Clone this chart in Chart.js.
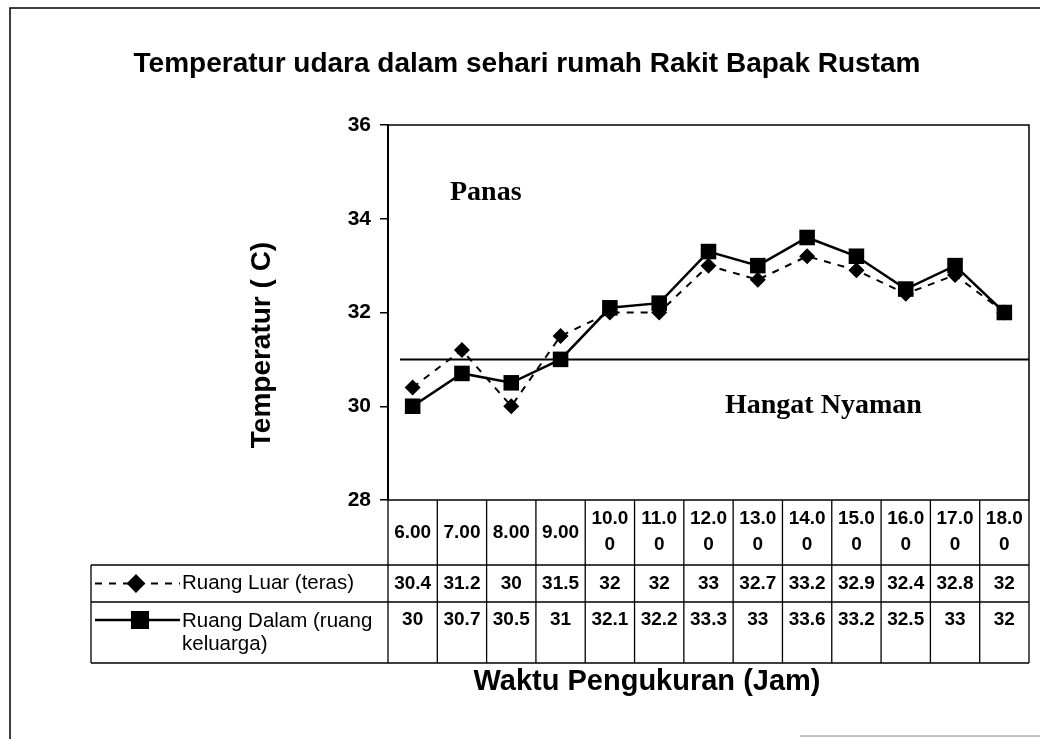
<!DOCTYPE html>
<html>
<head>
<meta charset="utf-8">
<title>Temperatur udara dalam sehari</title>
<script src="https://cdn.jsdelivr.net/npm/chart.js@4/dist/chart.umd.min.js"></script>
<style>
  html, body { margin: 0; padding: 0; background: #fff; }
  #wrap { width: 1040px; height: 739px; }
</style>
</head>
<body>
<div id="wrap"><canvas id="suhuChart" width="1040" height="739"></canvas></div>
<script>
// Jam pengukuran
const jamUkur = ['6.00', '7.00', '8.00', '9.00', '10.00', '11.00', '12.00', '13.00', '14.00', '15.00', '16.00', '17.00', '18.00'];
// Suhu ruang luar (teras), derajat C
const suhuLuar = [30.4, 31.2, 30, 31.5, 32, 32, 33, 32.7, 33.2, 32.9, 32.4, 32.8, 32];
// Suhu ruang dalam (ruang keluarga)
const suhuDalam = [30, 30.7, 30.5, 31, 32.1, 32.2, 33.3, 33, 33.6, 33.2, 32.5, 33, 32];
// Skala sumbu Y
const sumbuMin = 28;
const sumbuMax = 36;
const sumbuLangkah = 2;
// Batas zona hangat nyaman / panas
const batasNyaman = 31;
const namaSeri = ['Ruang Luar (teras)', 'Ruang Dalam (ruang keluarga)'];

const SANS = '"Liberation Sans", Arial, sans-serif';
const SERIF = '"Liberation Serif", "Times New Roman", serif';

// tinggi baris tabel di bawah grafik
const tinggiHeader = 65;
const tinggiLuar = 37;
const tinggiDalam = 61;
const kiriLegenda = 91;

// pecah label jam kalau tidak muat di kolom
function pecahLabel(ctx, teks, lebar) {
    if (ctx.measureText(teks).width <= lebar) return [teks];
    return [teks.slice(0, 4), teks.slice(4)];
}

// bungkus teks legenda per kata
function bungkusTeks(ctx, teks, lebar) {
    const kata = teks.split(' ');
    const baris = [];
    let cur = '';
    kata.forEach(k => {
        const coba = cur ? cur + ' ' + k : k;
        if (ctx.measureText(coba).width > lebar && cur) {
            baris.push(cur);
            cur = k;
        } else {
            cur = coba;
        }
    });
    if (cur) baris.push(cur);
    return baris;
}

const zonaPlugin = {
    id: 'zonaNyaman',
    beforeDatasetsDraw(chart) {
        const { ctx, chartArea: a, scales: { y } } = chart;
        const yb = y.getPixelForValue(batasNyaman);
        ctx.save();
        ctx.strokeStyle = '#000';
        ctx.lineWidth = 2;
        ctx.beginPath();
        ctx.moveTo(a.left + 12, yb);
        ctx.lineTo(a.right, yb);
        ctx.stroke();

        ctx.fillStyle = '#000';
        ctx.font = 'bold 28px ' + SERIF;
        ctx.textBaseline = 'middle';
        ctx.textAlign = 'left';
        ctx.fillText('Panas', a.left + 62, y.getPixelForValue(34.55));
        ctx.fillText('Hangat Nyaman', a.left + 337, y.getPixelForValue(30));
        ctx.restore();
    }
};

const tabelPlugin = {
    id: 'tabelData',
    afterDraw(chart) {
        const { ctx, chartArea: a, scales: { x } } = chart;
        const n = jamUkur.length;
        const colW = (a.right - a.left) / n;
        const y0 = a.bottom;
        const y1 = y0 + tinggiHeader;
        const y2 = y1 + tinggiLuar;
        const y3 = y2 + tinggiDalam;

        ctx.save();
        ctx.strokeStyle = '#000';
        ctx.fillStyle = '#000';

        // bingkai luar
        ctx.lineWidth = 1.5;
        ctx.beginPath();
        ctx.moveTo(10, 739);
        ctx.lineTo(10, 8);
        ctx.lineTo(1040, 8);
        ctx.stroke();
        ctx.strokeStyle = '#888';
        ctx.lineWidth = 1;
        ctx.beginPath();
        ctx.moveTo(800, 736);
        ctx.lineTo(1040, 736);
        ctx.stroke();
        ctx.strokeStyle = '#000';

        // bingkai area plot
        ctx.lineWidth = 1.5;
        ctx.strokeRect(a.left, a.top, a.right - a.left, a.bottom - a.top);

        // garis tabel
        ctx.lineWidth = 1.3;
        ctx.beginPath();
        for (let i = 0; i <= n; i++) {
            const xx = a.left + i * colW;
            ctx.moveTo(xx, y0);
            ctx.lineTo(xx, y3);
        }
        [y1, y2, y3].forEach(yy => {
            ctx.moveTo(kiriLegenda, yy);
            ctx.lineTo(a.right, yy);
        });
        ctx.moveTo(kiriLegenda, y1);
        ctx.lineTo(kiriLegenda, y3);
        ctx.stroke();

        // label jam
        ctx.font = 'bold 19px ' + SANS;
        ctx.textAlign = 'center';
        ctx.textBaseline = 'middle';
        jamUkur.forEach((lbl, i) => {
            const cx = x.getPixelForValue(i);
            const baris = pecahLabel(ctx, lbl, colW - 4);
            if (baris.length === 1) {
                ctx.fillText(baris[0], cx, (y0 + y1) / 2);
            } else {
                ctx.fillText(baris[0], cx, y0 + 19);
                ctx.fillText(baris[1], cx, y0 + 45);
            }
        });

        // nilai suhu
        suhuLuar.forEach((v, i) => ctx.fillText(String(v), x.getPixelForValue(i), (y1 + y2) / 2));
        suhuDalam.forEach((v, i) => ctx.fillText(String(v), x.getPixelForValue(i), y2 + 18));

        // legenda di kolom kiri
        const ds = chart.data.datasets;
        const sampel = [
            { d: ds[1], yy: (y1 + y2) / 2, mx: 136 },
            { d: ds[0], yy: y2 + 18, mx: 140 }
        ];
        sampel.forEach(s => {
            ctx.save();
            ctx.lineWidth = s.d.borderWidth;
            ctx.setLineDash(s.d.borderDash || []);
            ctx.beginPath();
            ctx.moveTo(kiriLegenda + 4, s.yy);
            ctx.lineTo(kiriLegenda + 89, s.yy);
            ctx.stroke();
            ctx.setLineDash([]);
            Chart.helpers.drawPoint(ctx, {
                pointStyle: s.d.pointStyle,
                radius: s.d.pointRadius,
                rotation: 0,
                borderWidth: 1
            }, s.mx, s.yy);
            ctx.fill();
            ctx.restore();
        });

        ctx.font = '20.5px ' + SANS;
        ctx.textAlign = 'left';
        const tx = kiriLegenda + 91;
        ctx.fillText(namaSeri[0], tx, (y1 + y2) / 2);
        bungkusTeks(ctx, namaSeri[1], a.left - tx - 4).forEach((b, i) => {
            ctx.fillText(b, tx, y2 + 19 + i * 23);
        });

        // judul
        ctx.textAlign = 'center';
        ctx.font = 'bold 28px ' + SANS;
        ctx.fillText('Temperatur udara dalam sehari rumah Rakit Bapak Rustam', 527, 64);
        ctx.font = 'bold 29px ' + SANS;
        ctx.fillText('Waktu Pengukuran (Jam)', 647, 682);

        ctx.translate(262, 345);
        ctx.rotate(-Math.PI / 2);
        ctx.font = 'bold 28px ' + SANS;
        ctx.fillText('Temperatur ( C)', 0, 0);
        ctx.restore();
    }
};

const ctx = document.getElementById('suhuChart').getContext('2d');

new Chart(ctx, {
    type: 'line',
    data: {
        labels: jamUkur,
        datasets: [
            {
                label: namaSeri[1],
                data: suhuDalam,
                borderColor: '#000',
                backgroundColor: '#000',
                borderWidth: 2.5,
                pointStyle: 'rect',
                pointRadius: 11,
                pointBorderWidth: 0,
                tension: 0,
                order: 0
            },
            {
                label: namaSeri[0],
                data: suhuLuar,
                borderColor: '#000',
                backgroundColor: '#000',
                borderWidth: 2,
                borderDash: [7, 7],
                pointStyle: 'rectRot',
                pointRadius: 8,
                pointBorderWidth: 0,
                tension: 0,
                order: 1
            }
        ]
    },
    options: {
        responsive: false,
        animation: false,
        layout: {
            padding: { left: 0, right: 10, top: 125, bottom: 239 }
        },
        plugins: {
            legend: { display: false },
            tooltip: { enabled: false }
        },
        scales: {
            x: {
                display: false,
                offset: true
            },
            y: {
                min: sumbuMin,
                max: sumbuMax,
                afterFit(scale) {
                    scale.width = 388;
                },
                ticks: {
                    stepSize: sumbuLangkah,
                    color: '#000',
                    padding: 9,
                    font: { family: SANS, size: 21, weight: 'bold' }
                },
                grid: {
                    drawOnChartArea: false,
                    drawTicks: true,
                    tickLength: 8,
                    color: '#000',
                    lineWidth: 1.5
                },
                border: { display: true, color: '#000', width: 2 }
            }
        }
    },
    plugins: [zonaPlugin, tabelPlugin]
});
</script>
</body>
</html>
